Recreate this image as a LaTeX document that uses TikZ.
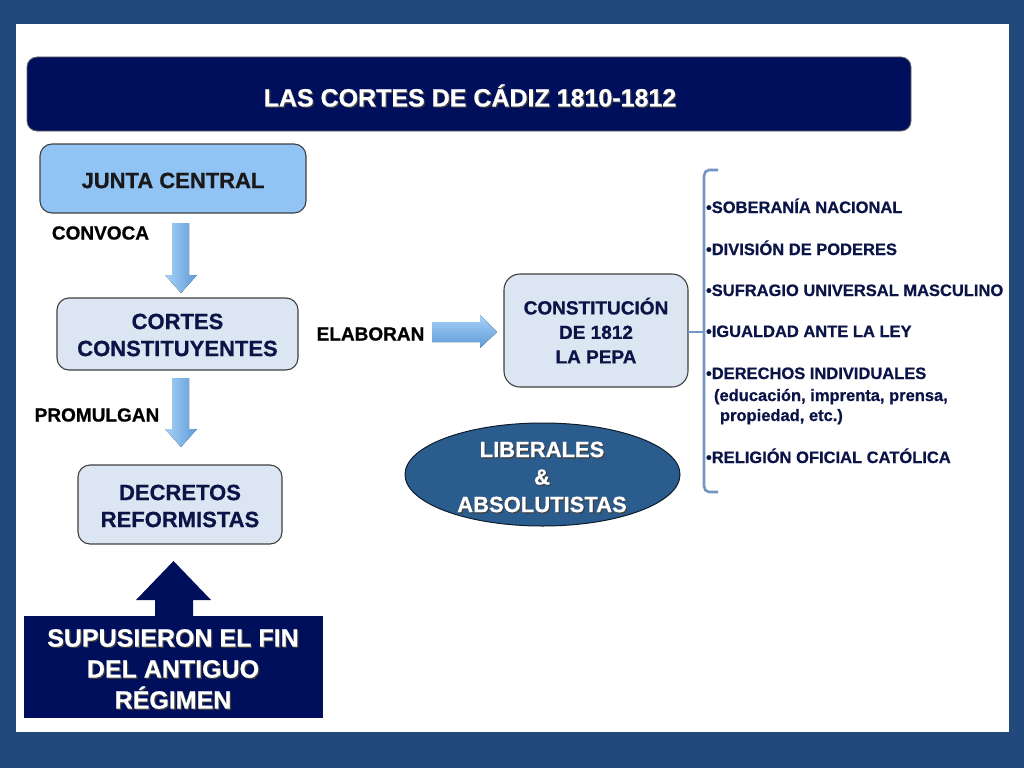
\documentclass[tikz,border=0pt]{standalone}
\usepackage{fontspec}
\setmainfont{Liberation Sans}[BoldFeatures={FakeBold=0.7}]
\usetikzlibrary{shapes.geometric,calc}
\definecolor{frameblue}{HTML}{22497B}
\definecolor{navy}{HTML}{000F5C}
\definecolor{boxtxt}{HTML}{0B1446}
\definecolor{lightbox}{HTML}{DCE6F2}
\definecolor{juntablue}{HTML}{92C3F5}
\definecolor{ellblue}{HTML}{2B5C8E}
\definecolor{brkblue}{HTML}{7396C2}
\definecolor{arrL}{HTML}{A8D2F7}
\definecolor{arrR}{HTML}{5E9AD8}
\newcommand{\lowerby}[2]{\raisebox{-#1}[\height][\depth]{#2}}
\begin{document}
\begin{tikzpicture}[x=1pt,y=-1pt,
  every node/.style={inner sep=0pt, outer sep=0pt},
  box/.style={draw=black!75, line width=1.1pt, rounded corners=12pt, align=center,
    text=boxtxt, font=\bfseries\fontsize{22}{27}\selectfont},
  lbl/.style={text=black, font=\bfseries\fontsize{19}{23}\selectfont},
  item/.style={anchor=base west, text=boxtxt, font=\bfseries\fontsize{16.5}{20}\selectfont},
  varrow/.style={left color=arrL, right color=arrR, draw=none},
  harrow/.style={top color=arrL, bottom color=arrR, draw=none},
  brk/.style={draw=brkblue, line width=2.6pt},
  wtxt/.style={align=center, text=white},
  stxt/.style={align=center, text=black!75}
]
% background frame
\fill[frameblue] (0,0) rectangle (1024,768);
\fill[white] (16,24) rectangle (1009,732);

% title
\node[fill=navy, draw=black!60, line width=0.8pt, rounded corners=10pt,
  minimum width=884pt, minimum height=74pt] (title) at (469,94) {};
\node[stxt, font=\bfseries\fontsize{25}{30}\selectfont] (titlesh) at (471.2,96.7) {LAS CORTES DE CÁDIZ 1810-1812};
\node[wtxt, font=\bfseries\fontsize{25}{30}\selectfont] (titletx) at (470,95.5) {LAS CORTES DE CÁDIZ 1810-1812};

% boxes
\node[box, fill=juntablue, text=black!90, minimum width=266pt, minimum height=69pt] (junta) at (173,178.5) {\lowerby{2pt}{JUNTA CENTRAL}};
\node[box, fill=lightbox, minimum width=241pt, minimum height=72pt] (cortes) at (177.5,334) {\lowerby{1pt}{\parbox{230pt}{\centering CORTES\\CONSTITUYENTES}}};
\node[box, fill=lightbox, minimum width=204pt, minimum height=79pt] (decretos) at (180,504.5) {\lowerby{1.5pt}{\parbox{200pt}{\centering DECRETOS\\REFORMISTAS}}};
\node[box, fill=lightbox, rounded corners=16pt, minimum width=184pt, minimum height=113pt,
  font=\bfseries\fontsize{19}{24.5}\selectfont] (const) at (596,330.5) {\parbox{180pt}{\centering CONSTITUCIÓN\\DE 1812\\LA PEPA}};

\node[ellipse, fill=ellblue, draw=black!70!ellblue, line width=1pt, minimum width=275pt, minimum height=103pt] (ell) at (542.5,474.5) {};
\node[stxt, font=\bfseries\fontsize{22}{27.5}\selectfont] (ellsh) at (543.2,478.2) {LIBERALES\\\&\\ABSOLUTISTAS};
\node[wtxt, font=\bfseries\fontsize{22}{27.5}\selectfont] (elltx) at (542,477) {LIBERALES\\\&\\ABSOLUTISTAS};

\node[fill=navy, minimum width=299pt, minimum height=102pt] (fin) at (173.5,667) {};
\node[stxt, font=\bfseries\fontsize{25}{31}\selectfont] (finsh) at (174.2,670.2) {SUPUSIERON EL FIN\\DEL ANTIGUO\\RÉGIMEN};
\node[wtxt, font=\bfseries\fontsize{25}{31}\selectfont] (fintx) at (173,669) {SUPUSIERON EL FIN\\DEL ANTIGUO\\RÉGIMEN};

% labels
\node[lbl] (convoca) at (100.5,233) {CONVOCA};
\node[lbl] (elaboran) at (370.5,334) {ELABORAN};
\node[lbl] (promulgan) at (97,415) {PROMULGAN};

% block arrows
\fill[varrow] (172,223) -- (189,223) -- (189,275) -- (197,275) -- (181,293) -- (165,275) -- (172,275) -- cycle;
\fill[varrow] (172,378) -- (189,378) -- (189,429) -- (197,429) -- (181,447) -- (165,429) -- (172,429) -- cycle;
\fill[harrow] (432,322) -- (480,322) -- (480,315) -- (497,332) -- (480,348) -- (480,342) -- (432,342) -- cycle;
\fill[navy] (155,616) -- (155,600) -- (136,600) -- (173.5,561) -- (211,600) -- (193,600) -- (193,616) -- cycle;

% bracket
\coordinate (bt) at (718,170);
\coordinate (bb) at (718,492);
\coordinate (bm) at (704,332);
\draw[brk] (bt) -- (709,170) to[out=180,in=90] (704,176) -- (704,486) to[out=-90,in=180] (709,492) -- (bb);
\draw[brk] (const.east |- bm) -- (bm);

% list
\node[item] (i1) at (706,213) {•SOBERANÍA NACIONAL};
\node[item] (i2) at (706,255) {•DIVISIÓN DE PODERES};
\node[item] (i3) at (706,296) {•SUFRAGIO UNIVERSAL MASCULINO};
\node[item] (i4) at (706,337) {•IGUALDAD ANTE LA LEY};
\node[item] (i5) at (706,379) {•DERECHOS INDIVIDUALES};
\node[item] (i5b) at (714,401) {(educación, imprenta, prensa,};
\node[item] (i5c) at (720,421) {propiedad, etc.)};
\node[item] (i6) at (706,463) {•RELIGIÓN OFICIAL CATÓLICA};
\end{tikzpicture}
\end{document}
